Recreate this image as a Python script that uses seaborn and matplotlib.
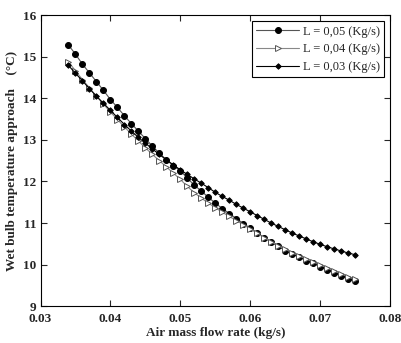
import pandas as pd
import matplotlib
matplotlib.use("Agg")
import matplotlib.pyplot as plt
import seaborn as sns

# air mass flow rate (kg/s)
air_flow = [0.034, 0.035, 0.036, 0.037, 0.038, 0.039, 0.040, 0.041, 0.042, 0.043,
            0.044, 0.045, 0.046, 0.047, 0.048, 0.049, 0.050, 0.051, 0.052, 0.053,
            0.054, 0.055, 0.056, 0.057, 0.058, 0.059, 0.060, 0.061, 0.062, 0.063,
            0.064, 0.065, 0.066, 0.067, 0.068, 0.069, 0.070, 0.071, 0.072, 0.073,
            0.074, 0.075]

# wet bulb temperature approach (C) for each water flow rate
approach_L005 = [15.28, 15.06, 14.82, 14.61, 14.40, 14.19, 13.97, 13.78, 13.58, 13.39,
                 13.21, 13.03, 12.85, 12.68, 12.52, 12.38, 12.26, 12.08, 11.91, 11.77,
                 11.62, 11.48, 11.35, 11.23, 11.11, 10.99, 10.88, 10.76, 10.65, 10.54,
                 10.44, 10.34, 10.26, 10.18, 10.10, 10.03, 9.95, 9.87, 9.80, 9.73,
                 9.66, 9.60]
approach_L004 = [14.88, 14.66, 14.45, 14.25, 14.05, 13.86, 13.67, 13.49, 13.31, 13.14,
                 12.97, 12.81, 12.65, 12.50, 12.35, 12.20, 12.05, 11.88, 11.73, 11.60,
                 11.48, 11.37, 11.26, 11.16, 11.06, 10.96, 10.86, 10.75, 10.65, 10.55,
                 10.46, 10.37, 10.29, 10.21, 10.14, 10.07, 10.00, 9.92, 9.85, 9.78,
                 9.71, 9.65]
approach_L003 = [14.79, 14.60, 14.42, 14.23, 14.05, 13.88, 13.71, 13.54, 13.37, 13.21,
                 13.06, 12.92, 12.78, 12.65, 12.52, 12.40, 12.28, 12.17, 12.06, 11.96,
                 11.85, 11.74, 11.64, 11.55, 11.45, 11.36, 11.27, 11.18, 11.09, 11.00,
                 10.92, 10.84, 10.76, 10.69, 10.62, 10.55, 10.49, 10.43, 10.38, 10.33,
                 10.28, 10.24]

labels = ["L = 0,05 (Kg/s)", "L = 0,04 (Kg/s)", "L = 0,03 (Kg/s)"]

sns.set_style("ticks")
plt.rcParams["font.family"] = ["Liberation Serif", "DejaVu Serif"]

fig = plt.figure(figsize=(4.01, 3.43), dpi=100)
ax = fig.add_axes([0.101, 0.107, 0.872, 0.849])

styles = [
    dict(marker="o", color="#555555", markerfacecolor="black", markeredgecolor="black",
         markersize=4.3),
    dict(marker=">", color="#888888", markerfacecolor="white", markeredgecolor="#555555",
         markersize=4),
    dict(marker="D", color="black", markerfacecolor="black", markeredgecolor="black",
         markersize=2.8),
]
series = [approach_L005, approach_L004, approach_L003]

for yvals, lab, st in zip(series, labels, styles):
    df = pd.DataFrame({"x": air_flow, "y": yvals})
    sns.lineplot(data=df, x="x", y="y", ax=ax, label=lab, linewidth=0.8,
                 markeredgewidth=0.7, **st)

ax.set_xlim(0.03, 0.08)
ax.set_ylim(9, 16)
ax.set_xticks([0.03, 0.04, 0.05, 0.06, 0.07, 0.08])
ax.set_xticklabels(["0.03", "0.04", "0.05", "0.06", "0.07", "0.08"])
ax.set_yticks(range(9, 17))
ax.tick_params(direction="in", top=True, right=True, length=4, width=0.8,
               labelsize=9.5, pad=3)
ax.tick_params(axis="x", pad=5)
for t in ax.get_xticklabels() + ax.get_yticklabels():
    t.set_fontweight("bold")
for s in ax.spines.values():
    s.set_linewidth(0.8)
    s.set_color("black")

ax.set_xlabel("Air mass flow rate (kg/s)", fontsize=9.5, fontweight="bold", labelpad=1)
ax.set_ylabel("Wet bulb temperature approach    (\u00b0C)", fontsize=9.5,
              fontweight="bold", labelpad=4)

leg = ax.legend(loc="upper right", fontsize=9, frameon=True, fancybox=False,
                edgecolor="black", framealpha=1, handlelength=3.4,
                borderpad=0.35, labelspacing=0.45, handletextpad=0.3,
                borderaxespad=0.5)
leg.get_frame().set_linewidth(0.8)

fig.savefig("out.png", dpi=100)
